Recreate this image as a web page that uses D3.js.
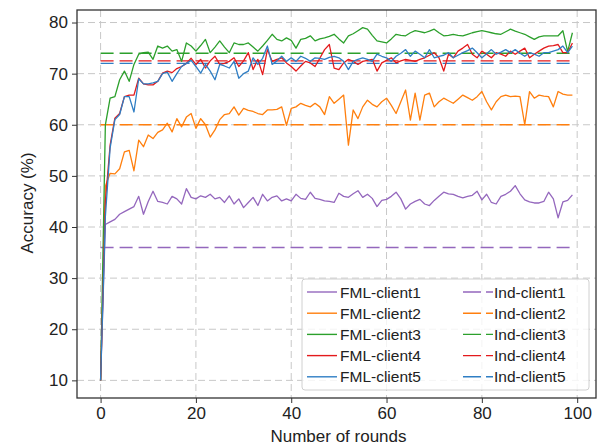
<!DOCTYPE html>
<head>
<meta charset="utf-8">
<title>Accuracy vs rounds</title>
<script type="text/javascript" src="https://d3js.org/d3.v7.min.js"></script>
<style>
  body { margin: 0; background: #fff; }
  text { font-family: "Liberation Sans", Arial, sans-serif; fill: #222; }
  .grid line { stroke: #c8c8c8; stroke-dasharray: 7,4; }
  .axis path, .axis line { stroke: #333; }
</style>
</head>
<body>
<div id="container"></div>
<script>
//---------------------------DATA-------------------------------//
const rounds = d3.range(0, 100);

const fml1 = [10,40.5,41,41.5,42.5,43,43.5,44,46,42.5,
  45,47,45,44.8,44.5,46,45.5,44.5,47.5,45.8,
  45.5,46.1,45.8,46.4,45.5,45.8,44.8,46.1,44.5,45.5,
  43.8,44.8,45.8,44.2,46.4,45.1,45.8,46.1,45.1,45.5,
  45.1,46.4,45.6,45.4,46.8,45.6,45.4,45.1,45,44.8,
  46.6,46,45.8,46.5,47.1,45.8,46.4,45.6,44,45.2,
  45.4,46,46.8,45.5,43.5,44.5,45,45.4,44.5,44.2,
  45.2,46,46.8,46.5,46.4,46,45.7,46,46.2,47,
  45.3,46.4,44.8,44.5,46,46.4,47,48.1,46.5,45.3,
  44.9,44.7,44.7,45,46.8,45.5,41.8,44.9,45.2,46.3];

const fml2 = [10,48,50.5,50.4,51.4,54.7,55,51,57,55.7,
  58,57.3,58.5,59,60.3,58.6,61.2,59.6,61.5,62.2,
  59.3,61.2,60,57.6,59,61,62,62.2,63.5,61.9,
  63.2,62.8,62.6,62.2,62,62.9,62.9,63,63.5,59.9,
  63.2,63.5,64.2,63.8,63.5,64.2,63.5,62,65.5,64.2,
  65,65.8,56,62.9,61.2,63.5,64.8,64,63.5,64.5,
  65.2,63.8,62.2,64.5,66.8,60.9,66.2,60.9,65.8,66.2,
  63.5,64.5,65.2,64.7,64.2,65,65.8,65.3,64.8,65.5,
  66.5,64.5,62.9,64.5,65.5,65.8,65.5,65.6,65.5,60,
  66.5,65.2,65.8,65.6,65.5,63.5,66.5,66,65.8,65.8];

const fml3 = [10,60,65.2,65.5,68.8,70.5,68.5,71.8,73.8,74.1,
  74.2,72.8,75.4,75,75.4,74.4,74.7,72.4,76,75.4,
  74.4,75.5,76.7,74.1,75.2,76.4,75.2,74.1,76,75.7,
  75.7,76,75.2,74.4,75.4,76.5,77.7,76.7,76.4,77,
  76.5,75,76.7,76.9,77.4,76.4,76.8,77,77.3,77.7,
  76.8,76,77.4,77.8,78.4,79,78.7,77.5,76.4,76.2,
  76,76.8,77.7,77.5,77.4,78,78.4,78.2,78,78.3,
  78.7,78,77.4,77.5,77.7,77.5,77.4,77.7,78,78.2,
  78.4,78.2,78,77.8,77.7,78.2,78.7,78.3,78,77.7,
  77.2,76.7,77.2,77.4,77.4,77.4,77.4,78.4,74.3,78];

const fml4 = [10,45,56,61.3,62.2,65.5,65.8,65.8,69.1,68,
  67.8,67.8,68.5,70.1,70.5,70.2,71,71.4,72,73,
  71.8,72.8,71.1,72.5,73.4,71.8,72,72.4,73.1,71.4,
  72.5,74.1,70.8,72.8,69.8,74.7,72.4,72.8,73.1,72.1,
  71.4,70.5,71.5,72.4,72.1,71.4,73,74.7,75.7,71.1,
  70.8,72.1,72.8,72.4,71.8,72.4,72.6,72.8,70.5,72.1,
  72.6,73.1,72.1,72.5,72.8,72.6,72.4,72.8,73.1,73.6,
  74.1,73.1,70.5,73.8,73.1,74.4,75,75.7,73.8,73.1,
  74.4,73.8,73.1,74.1,73.8,73.4,74.4,73.8,74.4,75,
  73.1,73.8,74.4,75,75.4,75.5,75.7,74.1,74.1,76];

const fml5 = [10,42,55.5,61,62,65.5,65.5,62.5,69,68,
  68,68.2,68.5,70,70.3,68.5,70,71.4,72,72.6,
  71.4,70.1,71.8,70.5,68.8,71.8,71.5,71.1,72.4,69.1,
  70,70.5,73.1,71.8,73,75.4,71.8,72.5,73.4,72.4,
  73.1,72.4,73.4,73,72.4,73.1,73,72.8,73.2,73.4,
  73.1,72.4,70.8,72.4,72.8,73.1,72.8,72.4,73.8,73.4,
  73.1,72.4,73.4,74,74.7,73.4,74.4,73.8,73.1,74.7,
  73.1,73.4,73.6,74.1,73.1,73.6,74.1,74.5,75,74.1,
  73.1,73.9,74.7,73.8,74.2,74.7,74.1,74.7,74,73.4,
  74.1,73.8,73.4,74.1,74.1,74.4,74.7,75.4,74.1,75.4];

// independent (non-federated) accuracy for each client
const indValues = [36, 60, 74, 72.5, 72];

const fmlNames = ["FML-client1", "FML-client2", "FML-client3", "FML-client4", "FML-client5"];
const indNames = ["Ind-client1", "Ind-client2", "Ind-client3", "Ind-client4", "Ind-client5"];
const colors = ["#9467bd", "#ff7f0e", "#2ca02c", "#e31a1c", "#2f7ec4"];

const xTicks = [0, 20, 40, 60, 80, 100];
const yTicks = [10, 20, 30, 40, 50, 60, 70, 80];

//---------------------------SVG--------------------------------//
let margin = {top: 10, right: 1, bottom: 47, left: 77},
    width = 597 - margin.left - margin.right,
    height = 445 - margin.top - margin.bottom;

let svg = d3.select("#container").append("svg")
    .attr("width", 597)
    .attr("height", 445)
  .append("g")
    .attr("transform", "translate(" + margin.left + "," + margin.top + ")");

//--------------------------SCALES------------------------------//
const xScale = d3.scaleLinear().domain([-4.95, 103.95]).range([0, width]);
const yScale = d3.scaleLinear().domain([6.55, 82.45]).range([height, 0]);

//---------------------------GRID-------------------------------//
svg.append("g").attr("class", "grid")
  .selectAll("line").data(xTicks).enter().append("line")
    .attr("x1", d => xScale(d)).attr("x2", d => xScale(d))
    .attr("y1", 0).attr("y2", height);

svg.append("g").attr("class", "grid")
  .selectAll("line").data(yTicks).enter().append("line")
    .attr("y1", d => yScale(d)).attr("y2", d => yScale(d))
    .attr("x1", 0).attr("x2", width);

//---------------------------LINES------------------------------//
const line = d3.line()
    .x((d, i) => xScale(rounds[i]))
    .y(d => yScale(d));

const series = [fml1, fml2, fml3, fml4, fml5];

// dashed baselines
svg.append("g").selectAll("line")
  .data(indValues).enter().append("line")
    .attr("x1", xScale(0)).attr("x2", xScale(99))
    .attr("y1", d => yScale(d)).attr("y2", d => yScale(d))
    .attr("stroke", (d, i) => colors[i])
    .attr("stroke-width", 1.4)
    .attr("stroke-dasharray", "13,6");

svg.append("g").selectAll("path")
  .data(series).enter().append("path")
    .attr("d", d => line(d))
    .attr("fill", "none")
    .attr("stroke", (d, i) => colors[i])
    .attr("stroke-width", 1.3)
    .attr("stroke-linejoin", "round");

//---------------------------AXES-------------------------------//
const xaxis = d3.axisBottom(xScale).tickValues(xTicks).tickSize(5).tickPadding(4);
const yaxis = d3.axisLeft(yScale).tickValues(yTicks).tickSize(5).tickPadding(4);

svg.append("g")
    .attr("class", "axis")
    .attr("transform", "translate(0," + height + ")")
    .call(xaxis)
    .call(g => g.select(".domain").remove())
    .selectAll("text").style("font-size", "17px");

svg.append("g")
    .attr("class", "axis")
    .call(yaxis)
    .call(g => g.select(".domain").remove())
    .selectAll("text").style("font-size", "17px");

// frame
svg.append("rect")
    .attr("width", width).attr("height", height)
    .attr("fill", "none")
    .attr("stroke", "#333")
    .attr("stroke-width", 1.3);

svg.append("text")
    .attr("x", width / 2 + 2)
    .attr("y", height + 44)
    .attr("text-anchor", "middle")
    .style("font-size", "17px")
    .text("Number of rounds");

svg.append("text")
    .attr("transform", "rotate(-90)")
    .attr("x", -(203 - margin.top))
    .attr("y", -44)
    .attr("text-anchor", "middle")
    .style("font-size", "17px")
    .text("Accuracy (%)");

//--------------------------LEGEND------------------------------//
const legend = svg.append("g")
    .attr("transform", "translate(" + (302 - margin.left) + "," + (279 - margin.top) + ")");

legend.append("rect")
    .attr("width", 287).attr("height", 111)
    .attr("rx", 3)
    .attr("fill", "#fff").attr("fill-opacity", 0.8)
    .attr("stroke", "#d0d0d0");

const legendRows = legend.selectAll("g.row")
  .data(fmlNames).enter().append("g")
    .attr("class", "row")
    .attr("transform", (d, i) => "translate(0," + (13 + i * 21.2) + ")");

legendRows.append("line")
    .attr("x1", 5).attr("x2", 35)
    .attr("stroke", (d, i) => colors[i]).attr("stroke-width", 1.4);
legendRows.append("text")
    .attr("x", 38).attr("y", 5.5)
    .style("font-size", "15.5px")
    .text(d => d);

legendRows.append("line")
    .attr("x1", 161).attr("x2", 191)
    .attr("stroke", (d, i) => colors[i]).attr("stroke-width", 1.4)
    .attr("stroke-dasharray", "18,5");
legendRows.append("text")
    .attr("x", 192).attr("y", 5.5)
    .style("font-size", "15.5px")
    .text((d, i) => indNames[i]);
</script>
</body>
